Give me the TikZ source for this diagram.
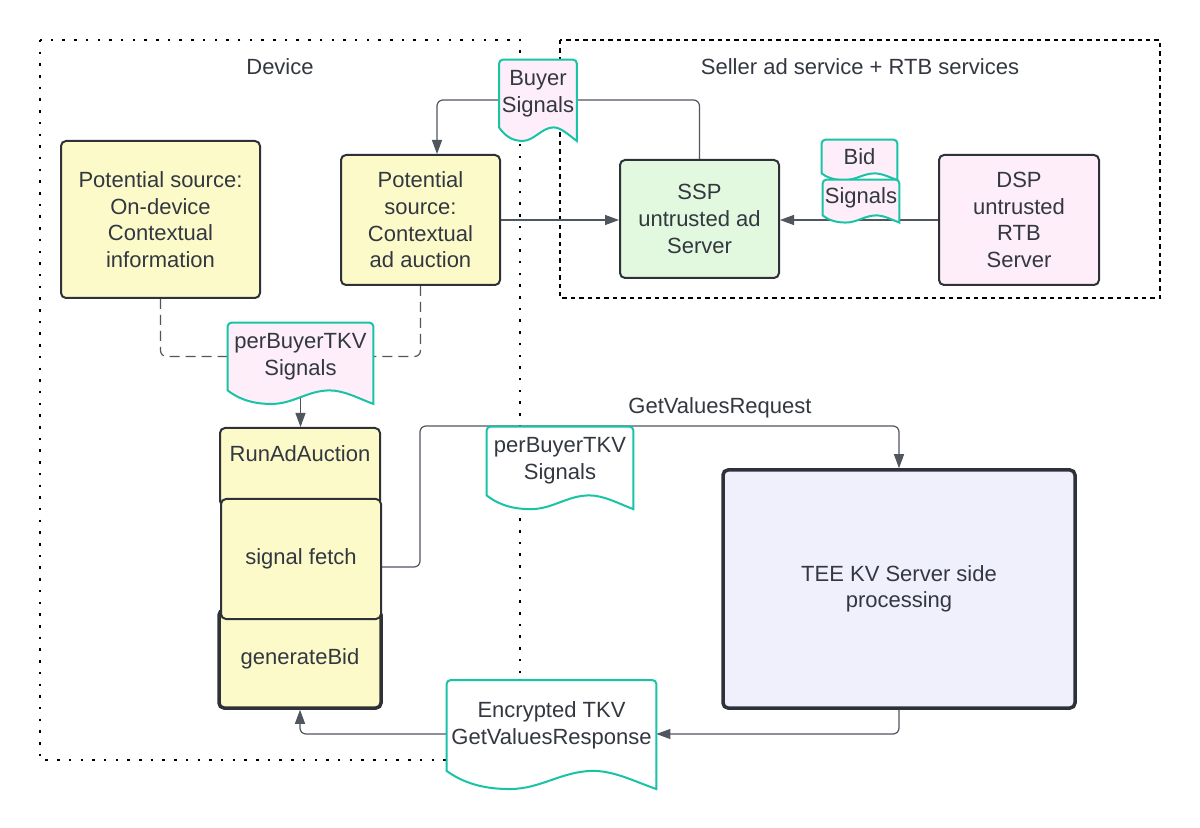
\documentclass[tikz,border=0pt]{standalone}
\usepackage{fontspec}
\setmainfont{Liberation Sans}
\usepackage{tikz}
\usetikzlibrary{arrows.meta}
\usetikzlibrary{calc}

\definecolor{boxyellow}{HTML}{FCFAC9}
\definecolor{boxgreen}{HTML}{E2F9DF}
\definecolor{boxpink}{HTML}{FDEEF9}
\definecolor{boxlav}{HTML}{F0F0FC}
\definecolor{edge}{HTML}{2E3238}
\definecolor{docteal}{HTML}{18C3A6}
\definecolor{linegray}{HTML}{50565E}
\definecolor{txtgray}{HTML}{333840}

\pgfdeclarelayer{back}
\pgfsetlayers{back,main}

% document outline with wavy bottom round node #1
\newcommand{\docoutline}[2]{%
  \draw[docline, fill=#2] let \p1=(#1.north west), \p2=(#1.south east),
      \n1={0.2*(\y1-\y2)}, \n2={\x2-\x1} in
    (\x1,\y2) [rounded corners=2pt] -- (\x1,\y1) -- (\x2,\y1) [sharp corners] -- (\x2,\y2-\n1)
    .. controls (\x1+0.9*\n2,\y2-0.6*\n1) and (\x1+0.8*\n2,\y2) .. (\x1+0.7*\n2,\y2)
    .. controls (\x1+0.55*\n2,\y2) and (\x1+0.45*\n2,\y2-\n1) .. (\x1+0.3*\n2,\y2-\n1)
    .. controls (\x1+0.15*\n2,\y2-\n1) and (\x1+0.06*\n2,\y2-0.5*\n1) .. (\x1,\y2) -- cycle;
}

\begin{document}
\begin{tikzpicture}[x=0.5pt, y=-0.5pt,
    every node/.style={font=\fontsize{11}{13.3}\selectfont, text=txtgray},
    srcbox/.style={draw=edge, line width=1pt, rounded corners=2.5pt, fill=boxyellow,
      inner sep=0pt, align=center},
    heavybox/.style={srcbox, line width=1.75pt},
    docnode/.style={inner sep=0pt, align=center},
    docline/.style={draw=docteal, line width=1pt},
    conn/.style={draw=linegray, line width=0.6pt, rounded corners=3pt},
    flow/.style={conn, -{Triangle[length=7pt,width=5pt]}},
    feed/.style={conn, dash pattern=on 5pt off 3pt},
    devframe/.style={draw=black, line width=1.25pt, dash pattern=on 1.25pt off 4.6pt},
    sellframe/.style={draw=black, line width=1.25pt, dash pattern=on 2.2pt off 2pt}]

      \useasboundingbox (0,0) rectangle (1200,828);

      \node (devlabel) at (280,67) {Device};
      \node (selllabel) at (860,67) {Seller ad service + RTB services};

      \node[srcbox, minimum width=99.5pt, minimum height=78.5pt] (infobox) at (160.5,219.5)
        {Potential source:\\On-device\\Contextual\\information};
      \node[srcbox, minimum width=79.5pt, minimum height=65pt] (auction) at (420.5,220)
        {Potential\\source:\\Contextual\\ad auction};
      \node[srcbox, fill=boxgreen, minimum width=79.5pt, minimum height=59pt] (ssp) at (699.5,219)
        {SSP\\untrusted ad\\Server};
      \node[srcbox, fill=boxpink, minimum width=80pt, minimum height=65pt] (dsp) at (1019,220)
        {DSP\\untrusted\\RTB\\Server};

      \node[srcbox, anchor=north, minimum width=80pt, text height=17pt, text depth=22pt] (runad)
        at (300,427) {RunAdAuction};
      \node[heavybox, minimum width=81pt, minimum height=49pt] (genbid) at (300,659) {generateBid};
      \node[srcbox, minimum width=80pt, minimum height=60pt] (sigfetch) at (301,559) {signal fetch};

      \node[heavybox, fill=boxlav, minimum width=176pt, minimum height=119pt] (tee) at (899,589)
        {TEE KV Server side\\processing};

      % documents
      \node[docnode, minimum width=38.5pt, minimum height=33.5pt] (buyersig) at (538,93.5)
        {Buyer\\Signals};
      \node[docnode, minimum width=37.5pt, minimum height=16.5pt] (biddoc) at (859.5,156.5) {Bid};
      \node[docnode, minimum width=38pt, minimum height=17.5pt] (sigdoc) at (861,197.5) {Signals};
      \node[docnode, minimum width=72.5pt, minimum height=33.5pt] (pbs1) at (300.5,356.5)
        {perBuyerTKV\\Signals};
      \node[docnode, minimum width=73pt, minimum height=34pt] (pbs2) at (560,461)
        {perBuyerTKV\\Signals};
      \node[docnode, minimum width=104.5pt, minimum height=45pt] (enc) at (551.5,725.5)
        {Encrypted TKV\\GetValuesResponse};

      \node (gvrlabel) at (720,408) {GetValuesRequest};

      \begin{pgfonlayer}{back}
      \fill[white] (0,0) rectangle (1200,828);
      \draw[devframe] (40,40) rectangle (520,760);
      \draw[sellframe] (560,40) rectangle (1160,298);

      % connectors
      \coordinate (bsknee) at (437,100);
      \draw[flow] (ssp.north) |- (bsknee) -- (bsknee |- auction.north);
      \draw[flow] (auction.east) -- (auction.east -| ssp.west);
      \draw[flow] (dsp.west) -- (dsp.west -| ssp.east);

      \draw[feed] (infobox.south) |- (pbs1.west);
      \draw[feed] (auction.south) |- (pbs1.east);
      \draw[flow] (pbs1.south) -- (pbs1.south |- runad.north);

      \coordinate (gvrout) at ($(sigfetch.east)+(0,8)$);
      \coordinate (gvrknee) at (420,426);
      \draw[flow] (gvrout) -| (gvrknee) -| (tee.north);

      \coordinate (retrow) at (0,734);
      \draw[flow] (tee.south) |- (enc.east |- retrow);
      \draw[flow] (enc.west |- retrow) -| (genbid.south);

      \docoutline{buyersig}{boxpink}
      \docoutline{biddoc}{boxpink}
      \docoutline{sigdoc}{boxpink}
      \docoutline{pbs1}{boxpink}
      \docoutline{pbs2}{white}
      \docoutline{enc}{white}
      \end{pgfonlayer}
    \end{tikzpicture}
\end{document}
